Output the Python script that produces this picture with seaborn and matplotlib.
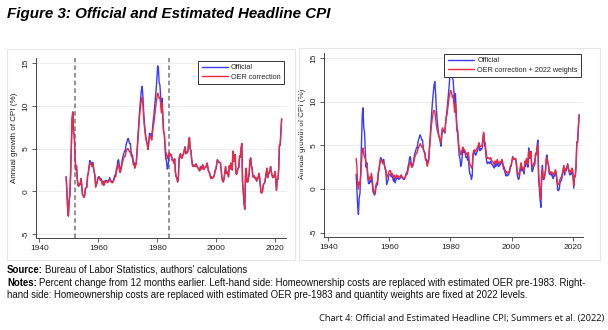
import numpy as np
import pandas as pd
import matplotlib
matplotlib.use("Agg")
import matplotlib.pyplot as plt
from matplotlib.patches import Rectangle
import seaborn as sns

# Year-over-year CPI growth (%), quarterly, 1949Q1 - 2022Q1
cpi_official = [
    1.7, 0.0, -2.0, -2.9,   # 1949
    -1.0, -0.5, 2.0, 5.5,   # 1950
    8.5, 9.3, 7.0, 6.5,     # 1951
    4.3, 2.5, 3.0, 1.5,     # 1952
    0.7, 0.6, 0.9, 0.8,     # 1953
    1.5, 0.8, -0.3, -0.5,   # 1954
    -0.7, -0.5, 0.3, 0.4,   # 1955
    0.5, 1.8, 2.2, 2.9,     # 1956
    3.6, 3.5, 3.3, 3.0,     # 1957
    3.4, 2.8, 2.3, 1.9,     # 1958
    0.5, 0.8, 1.1, 1.6,     # 1959
    1.7, 1.7, 1.4, 1.5,     # 1960
    1.2, 0.9, 1.2, 0.7,     # 1961
    1.0, 1.3, 1.2, 1.3,     # 1962
    1.1, 1.2, 1.3, 1.6,     # 1963
    1.3, 1.2, 1.1, 1.1,     # 1964
    1.3, 1.6, 1.9, 1.9,     # 1965
    2.6, 2.9, 3.6, 3.7,     # 1966
    3.0, 2.5, 2.7, 3.1,     # 1967
    3.7, 4.1, 4.4, 4.7,     # 1968
    4.7, 5.4, 5.7, 6.0,     # 1969
    6.2, 5.9, 5.6, 5.6,     # 1970
    4.6, 4.3, 4.2, 3.4,     # 1971
    3.4, 3.0, 3.2, 3.4,     # 1972
    4.7, 6.0, 7.5, 8.8,     # 1973
    10.0, 10.9, 11.9, 12.3, # 1974
    11.1, 9.3, 8.0, 7.2,    # 1975
    6.3, 5.9, 5.5, 4.9,     # 1976
    5.9, 6.8, 6.6, 6.7,     # 1977
    6.4, 7.4, 8.3, 9.0,     # 1978
    10.0, 11.0, 12.0, 13.3, # 1979
    14.7, 14.4, 12.7, 12.5, # 1980
    11.2, 9.8, 10.9, 8.9,   # 1981
    7.0, 6.7, 5.0, 3.8,     # 1982
    3.5, 2.6, 2.9, 3.8,     # 1983
    4.5, 4.2, 4.3, 4.0,     # 1984
    3.6, 3.7, 3.3, 3.8,     # 1985
    2.3, 1.7, 1.6, 1.1,     # 1986
    1.5, 3.8, 4.2, 4.4,     # 1987
    3.9, 3.9, 4.2, 4.4,     # 1988
    4.8, 5.2, 4.4, 4.6,     # 1989
    4.5, 4.7, 5.7, 6.3,     # 1990
    5.0, 4.8, 3.8, 3.1,     # 1991
    2.9, 3.1, 3.0, 2.9,     # 1992
    3.2, 3.0, 2.8, 2.7,     # 1993
    2.5, 2.4, 2.9, 2.6,     # 1994
    2.8, 3.1, 2.6, 2.6,     # 1995
    2.8, 2.8, 3.0, 3.3,     # 1996
    2.8, 2.3, 2.2, 1.9,     # 1997
    1.5, 1.7, 1.5, 1.6,     # 1998
    1.7, 2.0, 2.5, 2.6,     # 1999
    3.2, 3.7, 3.5, 3.4,     # 2000
    3.4, 3.3, 2.6, 1.6,     # 2001
    1.2, 1.1, 1.5, 2.2,     # 2002
    2.9, 2.1, 2.3, 2.0,     # 2003
    1.7, 3.0, 2.6, 3.3,     # 2004
    3.0, 2.5, 4.7, 3.5,     # 2005
    3.6, 4.3, 2.1, 2.0,     # 2006
    2.4, 2.7, 2.8, 4.1,     # 2007
    4.0, 5.0, 5.6, 1.1,     # 2008
    0.0, -1.3, -2.1, 1.8,   # 2009
    2.7, 1.1, 1.1, 1.5,     # 2010
    2.1, 3.6, 3.9, 3.0,     # 2011
    2.7, 1.7, 1.7, 1.8,     # 2012
    1.5, 1.6, 1.2, 1.5,     # 2013
    1.5, 2.1, 1.7, 0.8,     # 2014
    -0.1, -0.2, 0.0, 0.7,   # 2015
    0.9, 1.0, 1.5, 2.1,     # 2016
    2.7, 1.6, 2.2, 2.1,     # 2017
    2.4, 2.9, 2.3, 1.9,     # 2018
    1.6, 1.8, 1.7, 2.3,     # 2019
    1.5, 0.1, 1.4, 1.4,     # 2020
    2.6, 5.4, 5.4, 7.0,     # 2021
    8.5,                    # 2022
]

# OER-corrected CPI before 1984; from 1984 on it is the official series
cpi_oer_pre1984 = [
    1.7, 0.0, -2.0, -2.9,   # 1949
    -1.0, -0.5, 2.0, 5.5,   # 1950
    8.5, 9.3, 7.0, 6.5,     # 1951
    4.3, 2.5, 3.0, 1.5,     # 1952
    0.7, 0.6, 0.9, 0.8,     # 1953
    1.5, 0.8, -0.3, -0.5,   # 1954
    -0.7, -0.5, 0.3, 0.4,   # 1955
    0.5, 1.8, 2.1, 2.8,     # 1956
    3.3, 3.3, 3.1, 2.9,     # 1957
    3.2, 2.7, 2.2, 1.8,     # 1958
    0.5, 0.8, 1.1, 1.5,     # 1959
    1.6, 1.6, 1.3, 1.4,     # 1960
    1.1, 0.8, 1.1, 0.7,     # 1961
    1.0, 1.2, 1.1, 1.2,     # 1962
    1.0, 1.1, 1.2, 1.4,     # 1963
    1.2, 1.1, 1.0, 1.0,     # 1964
    1.2, 1.4, 1.7, 1.7,     # 1965
    2.3, 2.6, 3.1, 3.2,     # 1966
    2.6, 2.2, 2.4, 2.8,     # 1967
    3.3, 3.6, 3.9, 4.1,     # 1968
    4.1, 4.6, 4.8, 5.0,     # 1969
    5.0, 4.8, 4.6, 4.7,     # 1970
    4.2, 4.0, 3.8, 3.1,     # 1971
    3.2, 2.7, 3.0, 3.2,     # 1972
    4.5, 5.7, 7.1, 8.3,     # 1973
    9.4, 10.1, 10.8, 11.0,  # 1974
    10.2, 8.7, 7.6, 6.9,    # 1975
    6.1, 5.8, 5.4, 4.9,     # 1976
    5.8, 6.5, 6.3, 6.3,     # 1977
    6.0, 6.9, 7.6, 8.1,     # 1978
    8.9, 9.7, 10.4, 11.0,   # 1979
    11.5, 11.3, 10.9, 11.0, # 1980
    10.2, 9.2, 10.3, 8.5,   # 1981
    7.0, 6.8, 5.5, 4.6,     # 1982
    4.4, 3.8, 4.0, 4.4,     # 1983
]

# OER correction with quantity weights fixed at 2022 levels
cpi_oer_2022w = [
    3.5, 2.5, 0.5, 0.0,     # 1949
    0.8, 0.5, 1.5, 3.0,     # 1950
    4.5, 4.7, 4.0, 3.7,     # 1951
    3.5, 2.8, 2.8, 2.0,     # 1952
    1.2, 1.0, 1.4, 1.3,     # 1953
    1.8, 1.2, 0.2, -0.2,    # 1954
    -0.6, -0.3, 0.5, 0.7,   # 1955
    0.9, 1.9, 2.3, 3.0,     # 1956
    3.4, 3.3, 3.1, 2.9,     # 1957
    3.1, 2.7, 2.4, 2.2,     # 1958
    1.3, 1.5, 1.7, 2.0,     # 1959
    2.1, 2.1, 1.7, 1.8,     # 1960
    1.5, 1.3, 1.6, 1.2,     # 1961
    1.4, 1.6, 1.4, 1.5,     # 1962
    1.3, 1.4, 1.5, 1.6,     # 1963
    1.4, 1.3, 1.2, 1.2,     # 1964
    1.3, 1.5, 1.7, 1.7,     # 1965
    2.2, 2.5, 3.0, 3.1,     # 1966
    2.7, 2.5, 2.6, 2.9,     # 1967
    3.3, 3.7, 3.9, 4.1,     # 1968
    4.2, 4.6, 4.8, 5.0,     # 1969
    5.2, 5.0, 4.8, 4.9,     # 1970
    4.5, 4.3, 4.0, 3.3,     # 1971
    3.2, 2.6, 2.9, 3.2,     # 1972
    4.6, 5.6, 6.8, 7.6,     # 1973
    8.3, 8.8, 9.0, 8.9,     # 1974
    8.2, 7.3, 6.8, 6.5,     # 1975
    6.1, 5.9, 5.6, 5.3,     # 1976
    6.4, 7.0, 6.8, 6.7,     # 1977
    6.5, 7.3, 8.2, 8.5,     # 1978
    9.3, 10.0, 10.6, 11.0,  # 1979
    11.3, 11.0, 10.5, 10.7, # 1980
    9.8, 8.8, 9.8, 8.2,     # 1981
    6.6, 6.4, 5.4, 4.6,     # 1982
    4.4, 3.9, 4.2, 4.6,     # 1983
    4.8, 4.5, 4.5, 4.3,     # 1984
    4.0, 4.1, 3.8, 4.2,     # 1985
    3.2, 2.8, 2.7, 2.4,     # 1986
    2.6, 4.0, 4.4, 4.5,     # 1987
    4.3, 4.4, 4.6, 4.8,     # 1988
    5.0, 5.3, 4.8, 4.9,     # 1989
    4.9, 5.0, 5.9, 6.5,     # 1990
    5.5, 5.3, 4.4, 3.7,     # 1991
    3.5, 3.6, 3.5, 3.4,     # 1992
    3.6, 3.4, 3.2, 3.1,     # 1993
    2.9, 2.8, 3.2, 3.0,     # 1994
    3.2, 3.4, 3.0, 2.9,     # 1995
    3.1, 3.0, 3.2, 3.4,     # 1996
    3.0, 2.6, 2.5, 2.2,     # 1997
    1.9, 2.0, 1.8, 1.9,     # 1998
    1.9, 2.2, 2.6, 2.7,     # 1999
    3.2, 3.6, 3.5, 3.4,     # 2000
    3.5, 3.5, 3.0, 2.1,     # 2001
    1.7, 1.6, 1.9, 2.5,     # 2002
    3.0, 2.4, 2.5, 2.3,     # 2003
    2.1, 3.2, 2.9, 3.5,     # 2004
    3.3, 2.9, 4.4, 3.6,     # 2005
    3.7, 4.2, 2.6, 2.5,     # 2006
    2.8, 3.0, 3.1, 4.0,     # 2007
    3.9, 4.6, 5.0, 1.7,     # 2008
    0.7, -0.5, -1.2, 1.6,   # 2009
    2.2, 1.2, 1.2, 1.6,     # 2010
    2.1, 3.3, 3.6, 3.0,     # 2011
    2.7, 1.9, 1.9, 2.0,     # 2012
    1.8, 1.9, 1.6, 1.8,     # 2013
    1.8, 2.2, 1.9, 1.2,     # 2014
    0.5, 0.5, 0.7, 1.1,     # 2015
    1.3, 1.4, 1.8, 2.2,     # 2016
    2.6, 1.9, 2.3, 2.3,     # 2017
    2.5, 2.8, 2.4, 2.1,     # 2018
    1.9, 2.1, 2.0, 2.4,     # 2019
    1.8, 0.4, 1.5, 1.5,     # 2020
    2.6, 5.2, 5.3, 6.8,     # 2021
    8.5,                    # 2022
]

quarters = pd.period_range("1949Q1", periods=len(cpi_official), freq="Q")
years = np.array([q.year + (q.quarter - 0.5) / 4 for q in quarters])
n_pre = len(cpi_oer_pre1984)
cpi_oer = cpi_oer_pre1984 + cpi_official[n_pre:]

break_years = [1952, 1984]
x_ticks = [1940, 1960, 1980, 2000, 2020]
y_ticks = [-5, 0, 5, 10, 15]

BLUE = "#3b3bff"
RED = "#f0283c"
INK = "#222222"

sns.set_theme(style="white")
plt.rcParams["font.family"] = ["Liberation Sans", "DejaVu Sans"]

fig = plt.figure(figsize=(6.08, 3.30), dpi=100)
W, H = 608, 330


def px_box(x0, y0, x1, y1):
    return [x0 / W, 1 - y1 / H, (x1 - x0) / W, (y1 - y0) / H]


# faint graph-region frames
for (x0, y0, x1, y1) in [(7, 49, 295, 260), (299, 48, 600, 260)]:
    fig.patches.append(Rectangle((x0 / W, 1 - y1 / H), (x1 - x0) / W, (y1 - y0) / H,
                                 transform=fig.transFigure, fill=False,
                                 edgecolor="#e6e6e6", lw=0.8))

ax1 = fig.add_axes(px_box(35.7, 58.3, 286, 238.3))
ax2 = fig.add_axes(px_box(324, 53.3, 583.3, 237.3))


def style_axis(ax, ylim, xlim, label_x):
    ax.set_xlim(*xlim)
    ax.set_ylim(*ylim)
    for y in y_ticks:
        ax.axhline(y, color="#ececec", lw=0.7, zorder=0)
    ax.set_xticks(x_ticks)
    ax.set_yticks(y_ticks)
    ax.set_xticklabels([str(t) for t in x_ticks], fontsize=6, color=INK)
    ax.set_yticklabels([str(t) for t in y_ticks], fontsize=6, color=INK,
                       rotation=90, va="center")
    ax.tick_params(axis="x", direction="out", length=3, width=0.6,
                   color="#444444", pad=2, bottom=True)
    ax.tick_params(axis="y", direction="out", length=3, width=0.6,
                   color="#444444", pad=1.5, left=True)
    ax.spines["top"].set_visible(False)
    ax.spines["right"].set_visible(False)
    for s in ("left", "bottom"):
        ax.spines[s].set_color("#444444")
        ax.spines[s].set_linewidth(0.7)
    ax.set_xlabel("")
    ax.set_ylabel("Annual growth of CPI (%)", fontsize=5.8, color=INK)
    ax.yaxis.set_label_coords(label_x, 0.56)
    ax.grid(False)


def style_legend(ax, anchor):
    leg = ax.legend(loc="upper right", bbox_to_anchor=anchor, fontsize=5.2,
                    frameon=True, fancybox=False, edgecolor="#333333",
                    framealpha=1, handlelength=3.6, handletextpad=0.5,
                    borderpad=0.45, labelspacing=0.35, borderaxespad=0)
    leg.get_frame().set_linewidth(0.7)


# left panel: official vs OER correction
sns.lineplot(x=years, y=cpi_official, ax=ax1, color=BLUE, lw=1.0,
             estimator=None, label="Official")
sns.lineplot(x=years, y=cpi_oer, ax=ax1, color=RED, lw=1.0,
             estimator=None, label="OER correction")
for by in break_years:
    ax1.axvline(by, color="#777777", lw=1.1, ls=(0, (3, 2)), zorder=1)
style_axis(ax1, (-5.51, 15.59), (1938.8, 2023.6), (18 - 35.7) / 250.3)
style_legend(ax1, (0.992, 0.985))

# right panel: official vs OER correction with 2022 weights
sns.lineplot(x=years, y=cpi_official, ax=ax2, color=BLUE, lw=1.0,
             estimator=None, label="Official")
sns.lineplot(x=years, y=cpi_oer_2022w, ax=ax2, color=RED, lw=1.0,
             estimator=None, label="OER correction + 2022 weights")
style_axis(ax2, (-5.53, 15.54), (1938.6, 2023.5), (306 - 324) / 259.3)
style_legend(ax2, (0.991, 0.996))

# title
fig.text(7 / W, 1 - 14 / H, "Figure 3: Official and Estimated Headline CPI",
         fontsize=10.9, fontweight="bold", fontstyle="italic", color="black",
         va="center", ha="left")

# source and notes with bold lead-ins
renderer = fig.canvas.get_renderer()
NOTE_SIZE = 6.95


def lead_text(x_px, y_px, head, body, size=NOTE_SIZE):
    t = fig.text(x_px / W, 1 - y_px / H, head, fontsize=size, fontweight="bold",
                 color="black", va="center", ha="left")
    bb = t.get_window_extent(renderer=renderer)
    fig.text((bb.x1 + 2) / W, 1 - y_px / H, body, fontsize=size, color="#111111",
             va="center", ha="left")


lead_text(7, 270, "Source:", "Bureau of Labor Statistics, authors' calculations")
lead_text(7, 283, "Notes:", "Percent change from 12 months earlier. Left-hand side: "
          "Homeownership costs are replaced with estimated OER pre-1983. Right-")
fig.text(7 / W, 1 - 295 / H, "hand side: Homeownership costs are replaced with "
         "estimated OER pre-1983 and quantity weights are fixed at 2022 levels.",
         fontsize=NOTE_SIZE, color="#111111", va="center", ha="left")

fig.text(604 / W, 1 - 318 / H,
         "Chart 4: Official and Estimated Headline CPI; Summers et al. (2022)",
         fontsize=6.7, color="#111111", va="center", ha="right",
         family=["Open Sans", "DejaVu Sans"])

fig.savefig("out.png", dpi=100)
